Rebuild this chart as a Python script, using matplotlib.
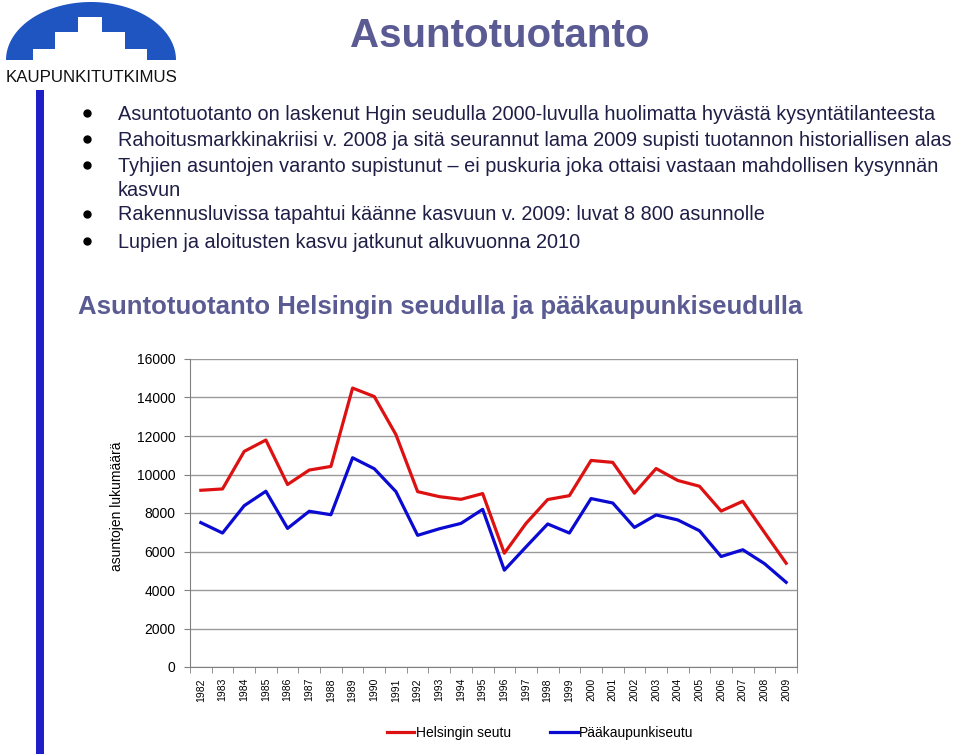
import numpy as np
import matplotlib
matplotlib.use("Agg")
from matplotlib import pyplot as plt
from matplotlib.patches import Polygon, Rectangle

plt.rcParams['font.family'] = ['Liberation Sans', 'DejaVu Sans']

years = [str(y) for y in range(1982, 2010)]
helsingin_seutu = [9180, 9250, 11200, 11790, 9480, 10230, 10420, 14490, 14050, 12070,
                   9110, 8850, 8710, 9010, 5910, 7460, 8700, 8900, 10730, 10630,
                   9030, 10310, 9690, 9390, 8100, 8610, 6990, 5390]
paakaupunkiseutu = [7500, 6960, 8380, 9130, 7200, 8090, 7910, 10870, 10300, 9110,
                    6840, 7180, 7460, 8190, 5030, 6240, 7430, 6960, 8750, 8520,
                    7250, 7900, 7640, 7080, 5740, 6090, 5370, 4400]
series_names = ["Helsingin seutu", "Pääkaupunkiseutu"]
yticks = list(range(0, 16001, 2000))

bullets = [
    "Asuntotuotanto on laskenut Hgin seudulla 2000-luvulla huolimatta hyvästä kysyntätilanteesta",
    "Rahoitusmarkkinakriisi v. 2008 ja sitä seurannut lama 2009 supisti tuotannon historiallisen alas",
    "Tyhjien asuntojen varanto supistunut \u2013 ei puskuria joka ottaisi vastaan mahdollisen kysynnän",
    "Rakennusluvissa tapahtui käänne kasvuun v. 2009: luvat 8 800 asunnolle",
    "Lupien ja aloitusten kasvu jatkunut alkuvuonna 2010",
]
continuation = "kasvun"

title_col = '#5b5b94'
text_col = '#1e1e46'

fig = plt.figure(figsize=(9.6, 7.56), dpi=100)

# decoration layer in pixel coordinates
deco = fig.add_axes([0, 0, 1, 1])
deco.set_xlim(0, 960)
deco.set_ylim(756, 0)
deco.axis('off')

# logo
t = np.linspace(0, np.pi, 100)
arch = np.column_stack([91 + 85 * np.cos(t), 60 - 58 * np.sin(t)])
deco.add_patch(Polygon(arch, closed=True, color='#1f55c0', lw=0))
steps = [(33, 60), (33, 49), (55, 49), (55, 32), (78, 32), (78, 17), (102, 17),
         (102, 32), (125, 32), (125, 49), (147, 49), (147, 60)]
deco.add_patch(Polygon(steps, closed=True, color='white', lw=0))
deco.text(92, 77, "KAUPUNKITUTKIMUS", ha='center', va='center', fontsize=12.2, color='#111111')

# left blue bar
deco.add_patch(Rectangle((36, 90), 8, 664, color='#1f1fc8', lw=0))

deco.text(500, 36, "Asuntotuotanto", ha='center', va='center', fontsize=29,
          fontweight='bold', color=title_col)

bullet_y = [114, 140, 166, 215, 242]
for by, txt in zip(bullet_y, bullets):
    deco.plot(87, by - 1, 'o', color='black', ms=5)
    deco.text(118, by, txt, ha='left', va='center', fontsize=14.3, color=text_col)
deco.text(118, 190, continuation, ha='left', va='center', fontsize=14.3, color=text_col)

deco.text(78, 307, "Asuntotuotanto Helsingin seudulla ja pääkaupunkiseudulla",
          ha='left', va='center', fontsize=18.5, fontweight='bold', color=title_col)

# chart
ax = fig.add_axes([190 / 960, 1 - 667 / 756, 607 / 960, 308 / 756])
x = np.arange(len(years))
ax.plot(x, helsingin_seutu, color='#dd1111', lw=2.3, label=series_names[0])
ax.plot(x, paakaupunkiseutu, color='#0a0ad2', lw=2.3, label=series_names[1])
ax.set_xlim(-0.5, len(years) - 0.5)
ax.set_ylim(0, 16000)
ax.set_yticks(yticks)
ax.set_yticklabels([str(v) for v in yticks], fontsize=10)
ax.yaxis.grid(True, color='#9a9a9a', lw=1)
ax.set_axisbelow(True)
ax.tick_params(axis='y', length=4, pad=6.5, color='#808080')
ax.set_xticks(x)
ax.set_xticklabels(years, rotation=90, fontsize=7.5)
ax.set_xticks(np.arange(-0.5, len(years)), minor=True)
ax.tick_params(axis='x', which='major', length=0, pad=8)
ax.tick_params(axis='x', which='minor', length=4, color='#808080')
for s in ax.spines.values():
    s.set_color('#808080')
ax.spines['top'].set_visible(False)

fig.text(117 / 960, 1 - 506 / 756, "asuntojen lukumäärä", rotation=90,
         ha='center', va='center', fontsize=10)

fig.legend(loc='center', bbox_to_anchor=(540 / 960, 1 - 733 / 756), ncol=2, frameon=False,
           fontsize=10, handlelength=2, handletextpad=0.1, columnspacing=2.8)

fig.savefig("out.png", dpi=100)
